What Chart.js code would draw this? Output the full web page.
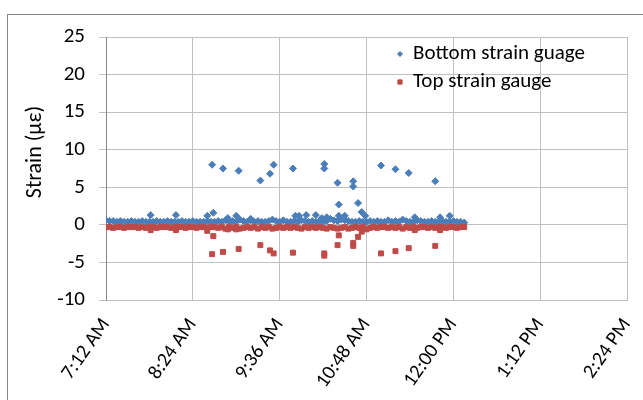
<!DOCTYPE html>
<html>
<head>
<meta charset="utf-8">
<script src="https://cdn.jsdelivr.net/npm/chart.js@4.4.0/dist/chart.umd.min.js"></script>
<style>
  html, body { margin: 0; padding: 0; background: #fff; }
  #wrap { width: 643px; height: 400px; }
</style>
</head>
<body>
<div id="wrap"><canvas id="chart" width="643" height="400"></canvas></div>
<script>
// readings every 3 minutes (24h clock)
const baseTimes = [
  "7:12","7:15","7:18","7:21","7:24","7:27","7:30","7:33","7:36","7:39",
  "7:42","7:45","7:48","7:51","7:54","7:57","8:00","8:03","8:06","8:09",
  "8:12","8:15","8:18","8:21","8:24","8:27","8:30","8:33","8:36","8:39",
  "8:42","8:45","8:48","8:51","8:54","8:57","9:00","9:03","9:06","9:09",
  "9:12","9:15","9:18","9:21","9:24","9:27","9:30","9:33","9:36","9:39",
  "9:42","9:45","9:48","9:51","9:54","9:57","10:00","10:03","10:06","10:09",
  "10:12","10:15","10:18","10:21","10:24","10:27","10:30","10:33","10:36","10:39",
  "10:42","10:45","10:48","10:51","10:54","10:57","11:00","11:03","11:06","11:09",
  "11:12","11:15","11:18","11:21","11:24","11:27","11:30","11:33","11:36","11:39",
  "11:42","11:45","11:48","11:51","11:54","11:57","12:00","12:03","12:06","12:09"
];
const bottomBase = [
  0.6,0.5,0.5,0.4,0.5,0.4,0.4,0.5,0.4,0.4,
  0.5,0.4,0.4,0.4,0.5,0.4,0.4,0.5,0.4,0.4,
  0.4,0.5,0.4,0.4,0.5,0.4,0.4,0.4,0.5,0.4,
  0.4,0.5,0.4,0.6,0.4,0.5,0.4,0.7,0.5,0.4,
  0.6,0.4,0.5,0.4,0.4,0.5,0.7,0.5,0.4,0.6,
  0.4,0.4,0.5,0.4,0.6,0.5,0.4,0.5,0.4,0.5,
  0.4,0.5,0.8,0.6,0.5,0.7,0.6,0.5,0.4,0.4,
  0.5,0.4,0.4,0.5,0.4,0.5,0.4,0.4,0.6,0.4,
  0.5,0.4,0.7,0.5,0.4,0.4,0.6,0.5,0.4,0.4,
  0.5,0.4,0.4,0.5,0.4,0.4,0.5,0.4,0.4,0.3
];
const topBase = [
  -0.3,-0.3,-0.4,-0.3,-0.3,-0.4,-0.3,-0.3,-0.3,-0.4,
  -0.3,-0.4,-0.3,-0.3,-0.4,-0.3,-0.3,-0.3,-0.4,-0.3,
  -0.3,-0.3,-0.4,-0.3,-0.3,-0.4,-0.3,-0.3,-0.4,-0.3,
  -0.3,-0.4,-0.3,-0.5,-0.3,-0.4,-0.3,-0.5,-0.4,-0.3,
  -0.4,-0.3,-0.5,-0.3,-0.4,-0.3,-0.5,-0.4,-0.3,-0.4,
  -0.3,-0.4,-0.3,-0.4,-0.5,-0.3,-0.4,-0.3,-0.4,-0.3,
  -0.4,-0.5,-0.3,-0.4,-0.5,-0.4,-0.3,-0.5,-0.4,-0.3,
  -0.4,-0.3,-0.6,-0.4,-0.3,-0.4,-0.3,-0.3,-0.4,-0.3,
  -0.4,-0.3,-0.5,-0.3,-0.4,-0.3,-0.4,-0.3,-0.3,-0.4,
  -0.3,-0.4,-0.3,-0.3,-0.4,-0.3,-0.3,-0.4,-0.3,-0.3
];
const bottomSpikeTimes = [
  "7:49","8:10","8:36","8:41","8:40","8:49","8:53","9:00","9:02","9:12",
  "9:20","9:28","9:31","9:47","9:49","9:52","9:58","10:06","10:11","10:13",
  "10:13","10:15","10:24","10:25","10:25","10:30","10:37","10:37","10:41","10:44",
  "10:47","11:00","11:12","11:23","11:28","11:45","11:49","11:57"
];
const bottomSpikes = [
  1.3, 1.3, 1.2, 1.6, 8.0, 7.5, 0.9, 1.2, 7.2, 0.8,
  5.9, 6.8, 8.0, 7.5, 1.2, 1.2, 1.3, 1.3, 0.9, 8.1,
  7.5, 1.0, 5.6, 2.7, 1.2, 1.2, 5.8, 5.1, 2.9, 1.7,
  1.2, 7.9, 7.4, 6.9, 1.0, 5.8, 1.0, 1.2
];
const topSpikeTimes = [
  "7:49","8:10","8:36","8:41","8:40","8:49","8:53","9:00","9:02","9:20",
  "9:28","9:31","9:47","10:13","10:13","10:24","10:25","10:37","10:37","10:41",
  "10:44","11:00","11:12","11:23","11:28","11:45","11:49"
];
const topSpikes = [
  -0.7, -0.7, -0.8, -1.5, -3.9, -3.6, -0.6, -0.6, -3.2, -2.7,
  -3.4, -3.8, -3.7, -3.8, -4.1, -2.7, -1.4, -2.4, -2.8, -1.6,
  -0.9, -3.8, -3.5, -3.1, -0.7, -2.8, -0.7
];
const xTickLabels = ["7:12 AM", "8:24 AM", "9:36 AM", "10:48 AM", "12:00 PM", "1:12 PM", "2:24 PM"];

const FONT = "Carlito, Calibri, Lato, sans-serif";
const BLUE = "#4a7ebb";
const RED = "#be4b48";

function toMin(t) {
  const p = t.split(":");
  return Number(p[0]) * 60 + Number(p[1]);
}
function points(times, vals) {
  return times.map((t, i) => ({ x: toMin(t), y: vals[i] }));
}

const framePlugin = {
  id: "frame",
  beforeDraw(chart) {
    const ctx = chart.ctx;
    ctx.save();
    ctx.strokeStyle = "#868686";
    ctx.lineWidth = 1;
    ctx.strokeRect(7.5, 14.5, 700, 500);
    ctx.restore();
  },
  afterDraw(chart) {
    const ctx = chart.ctx;
    ctx.save();
    // y axis title
    ctx.fillStyle = "#000";
    ctx.font = "22px " + FONT;
    ctx.textAlign = "center";
    ctx.textBaseline = "middle";
    ctx.translate(35, 152);
    ctx.rotate(-Math.PI / 2);
    ctx.fillText("Strain (\u03bc\u03b5)", 0, 0);
    ctx.restore();

    // legend
    const rows = [54, 82];
    chart.data.datasets.forEach((ds, i) => {
      ctx.save();
      ctx.fillStyle = ds.backgroundColor;
      ctx.strokeStyle = ds.borderColor;
      ctx.lineWidth = 1;
      Chart.helpers.drawPoint(ctx, { pointStyle: ds.pointStyle, radius: i === 0 ? 2.5 : 3, borderWidth: 1 }, 400, rows[i]);
      ctx.fillStyle = "#000";
      ctx.font = "21px " + FONT;
      ctx.textAlign = "left";
      ctx.textBaseline = "middle";
      ctx.fillText(ds.label, 413, rows[i]);
      ctx.restore();
    });
  }
};

new Chart(document.getElementById("chart"), {
  type: "scatter",
  data: {
    datasets: [
      {
        label: "Bottom strain guage",
        data: points(baseTimes, bottomBase).concat(points(bottomSpikeTimes, bottomSpikes)),
        pointStyle: "rectRot",
        pointRadius: 3.5,
        borderWidth: 1,
        backgroundColor: BLUE,
        borderColor: BLUE,
        order: 1
      },
      {
        label: "Top strain gauge",
        data: points(baseTimes, topBase).concat(points(topSpikeTimes, topSpikes)),
        pointStyle: "rect",
        pointRadius: 3.5,
        borderWidth: 1,
        backgroundColor: RED,
        borderColor: RED,
        order: 0
      }
    ]
  },
  options: {
    responsive: false,
    animation: false,
    devicePixelRatio: 1,
    layout: { padding: { top: 37, right: 16, left: 0, bottom: 0 } },
    plugins: { legend: { display: false }, tooltip: { enabled: false } },
    scales: {
      x: {
        type: "linear",
        min: 432,
        max: 864,
        afterFit(scale) {
          scale.height = 100;
          scale.paddingRight = 0;
          scale.paddingLeft = 0;
        },
        ticks: {
          stepSize: 72,
          autoSkip: false,
          maxRotation: 55,
          minRotation: 55,
          color: "#000",
          font: { family: FONT, size: 20 },
          padding: 14,
          callback: (v, i) => xTickLabels[i]
        },
        grid: { color: "#c0c0c0", drawTicks: false },
        border: { color: "#c0c0c0" }
      },
      y: {
        min: -10,
        max: 25,
        afterFit(scale) { scale.width = 106; },
        ticks: {
          stepSize: 5,
          color: "#000",
          font: { family: FONT, size: 21 },
          padding: 14
        },
        grid: { color: "#c0c0c0", tickLength: 7 },
        border: { color: "#868686" }
      }
    }
  },
  plugins: [framePlugin]
});
</script>
</body>
</html>
